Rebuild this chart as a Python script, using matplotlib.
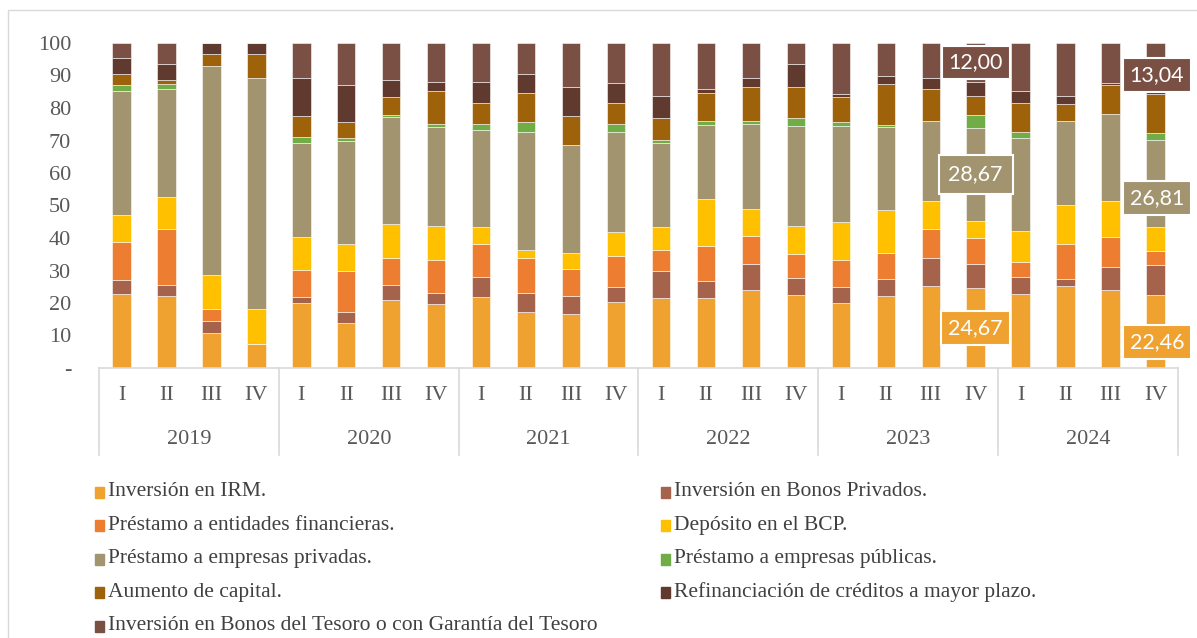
import matplotlib.pyplot as plt
from matplotlib.patches import Rectangle
import matplotlib.transforms as mtransforms
import numpy as np

plt.rcParams['font.family'] = ['Liberation Serif', 'DejaVu Serif']

# quarters 2019 I ... 2024 IV
years = ['2019', '2020', '2021', '2022', '2023', '2024']
quarters = ['I', 'II', 'III', 'IV']

irm = [22.7, 22.1, 10.9, 7.3, 19.9, 13.8, 20.9, 19.7, 21.9, 17.2, 16.7, 20.2,
       21.4, 21.6, 24.1, 22.4, 19.9, 22.1, 25.3, 24.67, 22.8, 25.3, 23.9, 22.46]
bonos_priv = [4.3, 3.4, 3.6, 0, 1.9, 3.5, 4.6, 3.5, 6.2, 6.0, 5.4, 4.8,
              8.3, 5.1, 8.0, 5.2, 5.1, 5.2, 8.6, 7.2, 5.2, 2.2, 7.3, 9.3]
prest_fin = [11.7, 17.3, 3.6, 0, 8.4, 12.5, 8.4, 10.1, 10.1, 10.7, 8.3, 9.6,
             6.6, 10.9, 8.6, 7.6, 8.2, 8.0, 8.8, 8.2, 4.7, 10.7, 9.2, 4.3]
deposito_bcp = [8.4, 9.7, 10.5, 10.8, 10.2, 8.4, 10.3, 10.3, 5.3, 2.4, 4.9, 7.1,
                7.2, 14.3, 8.1, 8.4, 11.6, 13.3, 8.7, 5.2, 9.5, 11.9, 11.0, 7.4]
prest_priv = [38.1, 33.2, 64.3, 71.2, 28.7, 31.5, 33.1, 30.7, 29.6, 36.2, 33.2, 30.8,
              25.6, 22.8, 26.4, 30.8, 29.6, 25.5, 24.6, 28.67, 28.5, 25.9, 26.8, 26.81]
prest_pub = [1.9, 1.8, 0, 0, 2.0, 1.1, 0.6, 0.7, 1.9, 3.1, 0, 2.5,
             1.1, 1.2, 0.8, 2.4, 1.2, 0.7, 0, 3.9, 2.0, 0, 0, 2.1]
capital = [3.4, 1.1, 3.6, 7.2, 6.4, 4.8, 5.4, 10.1, 6.5, 8.9, 8.9, 6.5,
           6.6, 8.6, 10.4, 9.6, 7.7, 12.5, 9.9, 6.0, 8.7, 5.1, 8.8, 11.9]
refin = [4.8, 4.8, 3.5, 3.5, 11.6, 11.5, 5.2, 3.0, 6.6, 5.9, 9.0, 6.1,
         7.0, 1.2, 2.9, 7.1, 1.1, 2.6, 3.4, 4.16, 3.8, 2.6, 0.6, 2.59]
tesoro = [4.6, 6.6, 0, 0, 10.9, 12.9, 11.5, 11.9, 11.9, 9.6, 13.6, 12.4,
          16.2, 14.3, 10.7, 6.5, 15.6, 10.1, 10.7, 12.00, 14.8, 16.3, 12.4, 13.04]

series_names = ['Inversión en IRM.', 'Inversión en Bonos Privados.',
                'Préstamo a entidades financieras.', 'Depósito en el BCP.',
                'Préstamo a empresas privadas.', 'Préstamo a empresas públicas.',
                'Aumento de capital.', 'Refinanciación de créditos a mayor plazo.',
                'Inversión en Bonos del Tesoro o con Garantía del Tesoro']
series = [irm, bonos_priv, prest_fin, deposito_bcp, prest_priv, prest_pub,
          capital, refin, tesoro]
colors = ['#EFA22F', '#A5634B', '#ED7D31', '#FFC000', '#A39470', '#70AD47',
          '#9E620A', '#603A2F', '#7A5045']

# labelled points: (quarter index, series index)
labelled = [(19, 0), (19, 4), (19, 8), (23, 0), (23, 4), (23, 8)]

W, H = 1197, 638
fig = plt.figure(figsize=(W / 100, H / 100), dpi=100)
ax = fig.add_axes([99 / W, 1 - 368 / H, (1178 - 99) / W, 325 / H])

n = len(irm)
x = np.arange(n)
bottom = np.zeros(n)
bottoms = []
for vals, col in zip(series, colors):
    vals = np.array(vals)
    bottoms.append(bottom.copy())
    ax.bar(x, vals, 0.41, bottom=bottom, color=col,
           edgecolor=(1, 1, 1, 0.55), linewidth=0.7)
    bottom += vals

ax.set_xlim(-0.5, n - 0.5)
ax.set_ylim(0, 100)
for s in ['top', 'left', 'right']:
    ax.spines[s].set_visible(False)
ax.spines['bottom'].set_color('#D9D9D9')
ax.spines['bottom'].set_linewidth(1.2)
ax.set_xticks([])
ax.set_yticks(range(0, 101, 10))
ax.set_yticklabels(['-'] + [str(v) for v in range(10, 101, 10)])
ax.tick_params(axis='y', length=0, pad=20, labelsize=16, labelcolor='#595959')

# category axis (quarters + years)
trans = mtransforms.blended_transform_factory(ax.transData, ax.transAxes)
px = 1 / 325
for i in range(n):
    ax.text(i, -28 * px, quarters[i % 4], transform=trans, ha='center',
            va='center', fontsize=16, color='#595959')
for j, yr in enumerate(years):
    ax.text(j * 4 + 1.5, -72 * px, yr, transform=trans, ha='center',
            va='center', fontsize=16, color='#595959')
for b in range(len(years) + 1):
    ax.plot([b * 4 - 0.5] * 2, [0, -87 * px], transform=trans,
            color='#D9D9D9', lw=1.2, clip_on=False)

# data labels
for qi, si in labelled:
    v = series[si][qi]
    yc = bottoms[si][qi] + v / 2
    last = qi == n - 1
    dy = -7.5 if last else 0
    if si == 4 and last:
        dy = -10.5
    pad = 0.45 if (si == 4 and not last) else 0.32
    ax.annotate(f'{v:.2f}'.replace('.', ','), (qi, yc), xytext=(1 if last else 0, dy),
                textcoords='offset points', ha='center', va='center',
                fontsize=15.5, family=['Lato', 'DejaVu Sans'], color='white',
                bbox=dict(boxstyle=f'square,pad={pad}', fc=colors[si], ec='white', lw=1.5),
                annotation_clip=False)

# legend
for k, (name, col) in enumerate(zip(series_names, colors)):
    row, c = k // 2, k % 2
    yc = 492 + 33.5 * row
    mx = 95 if c == 0 else 661
    fig.patches.append(Rectangle((mx / W, 1 - (yc + 5.5) / H), 9 / W, 11 / H,
                                 transform=fig.transFigure, color=col))
    fig.text((mx + 13) / W, 1 - yc / H, name, va='center', ha='left',
             fontsize=15.5, color='#404040')

# chart frame
fig.patches.append(Rectangle((8 / W, -0.1), 1.2, 1.1 - 10 / H, transform=fig.transFigure,
                             fill=False, ec='#D9D9D9', lw=1))

fig.savefig('out.png', dpi=100)
